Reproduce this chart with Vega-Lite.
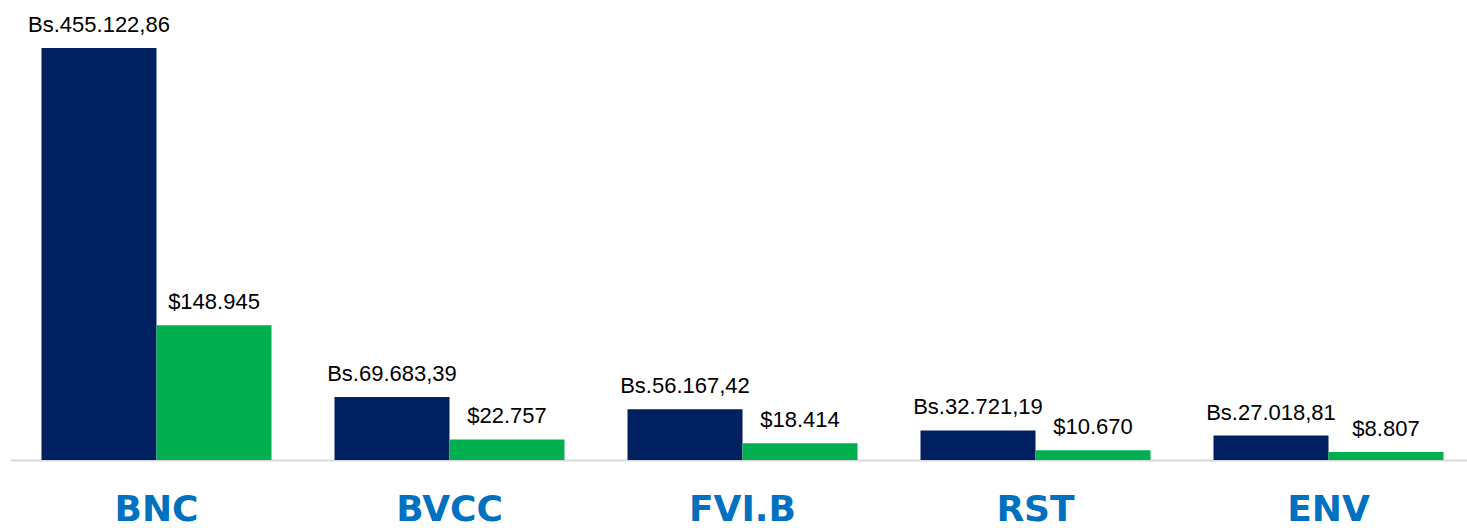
{
  "$schema": "https://vega.github.io/schema/vega-lite/v6.json",
  "autosize": {"type": "none"},
  "padding": {"left": 10, "top": 0, "right": 0, "bottom": 68},
  "width": 1465,
  "height": 460,
  "background": "white",
  "config": {"view": {"stroke": null}, "font": "Liberation Sans"},
  "data": {
    "values": [
      {"ticker": "BNC", "currency": "Bs", "value": 455122.86, "label": "Bs.455.122,86"},
      {"ticker": "BNC", "currency": "USD", "value": 148945, "label": "$148.945"},
      {"ticker": "BVCC", "currency": "Bs", "value": 69683.39, "label": "Bs.69.683,39"},
      {"ticker": "BVCC", "currency": "USD", "value": 22757, "label": "$22.757"},
      {"ticker": "FVI.B", "currency": "Bs", "value": 56167.42, "label": "Bs.56.167,42"},
      {"ticker": "FVI.B", "currency": "USD", "value": 18414, "label": "$18.414"},
      {"ticker": "RST", "currency": "Bs", "value": 32721.19, "label": "Bs.32.721,19"},
      {"ticker": "RST", "currency": "USD", "value": 10670, "label": "$10.670"},
      {"ticker": "ENV", "currency": "Bs", "value": 27018.81, "label": "Bs.27.018,81"},
      {"ticker": "ENV", "currency": "USD", "value": 8807, "label": "$8.807"}
    ]
  },
  "encoding": {
    "x": {
      "field": "ticker", "type": "nominal", "sort": null,
      "scale": {"paddingInner": 0.215, "paddingOuter": 0.1075},
      "axis": {
        "title": null, "ticks": false, "labelAngle": 0,
        "domainColor": "#D9D9D9", "domainWidth": 2,
        "labelColor": "#0070C0", "labelFontSize": 36, "labelFontWeight": "bold",
        "labelFont": "DejaVu Sans", "labelPadding": 32, "labelBaseline": "top"
      }
    },
    "xOffset": {"field": "currency", "type": "nominal", "scale": {"paddingInner": 0, "paddingOuter": 0}},
    "y": {
      "field": "value", "type": "quantitative",
      "scale": {"domain": [0, 508100], "nice": false},
      "axis": null
    }
  },
  "layer": [
    {
      "mark": {"type": "bar"},
      "encoding": {
        "color": {
          "field": "currency", "type": "nominal",
          "scale": {"domain": ["Bs", "USD"], "range": ["#002060", "#00B050"]},
          "legend": null
        }
      }
    },
    {
      "mark": {"type": "text", "baseline": "alphabetic", "dy": -16, "fontSize": 22, "color": "#000000", "font": "Liberation Sans"},
      "encoding": {"text": {"field": "label"}}
    }
  ]
}
